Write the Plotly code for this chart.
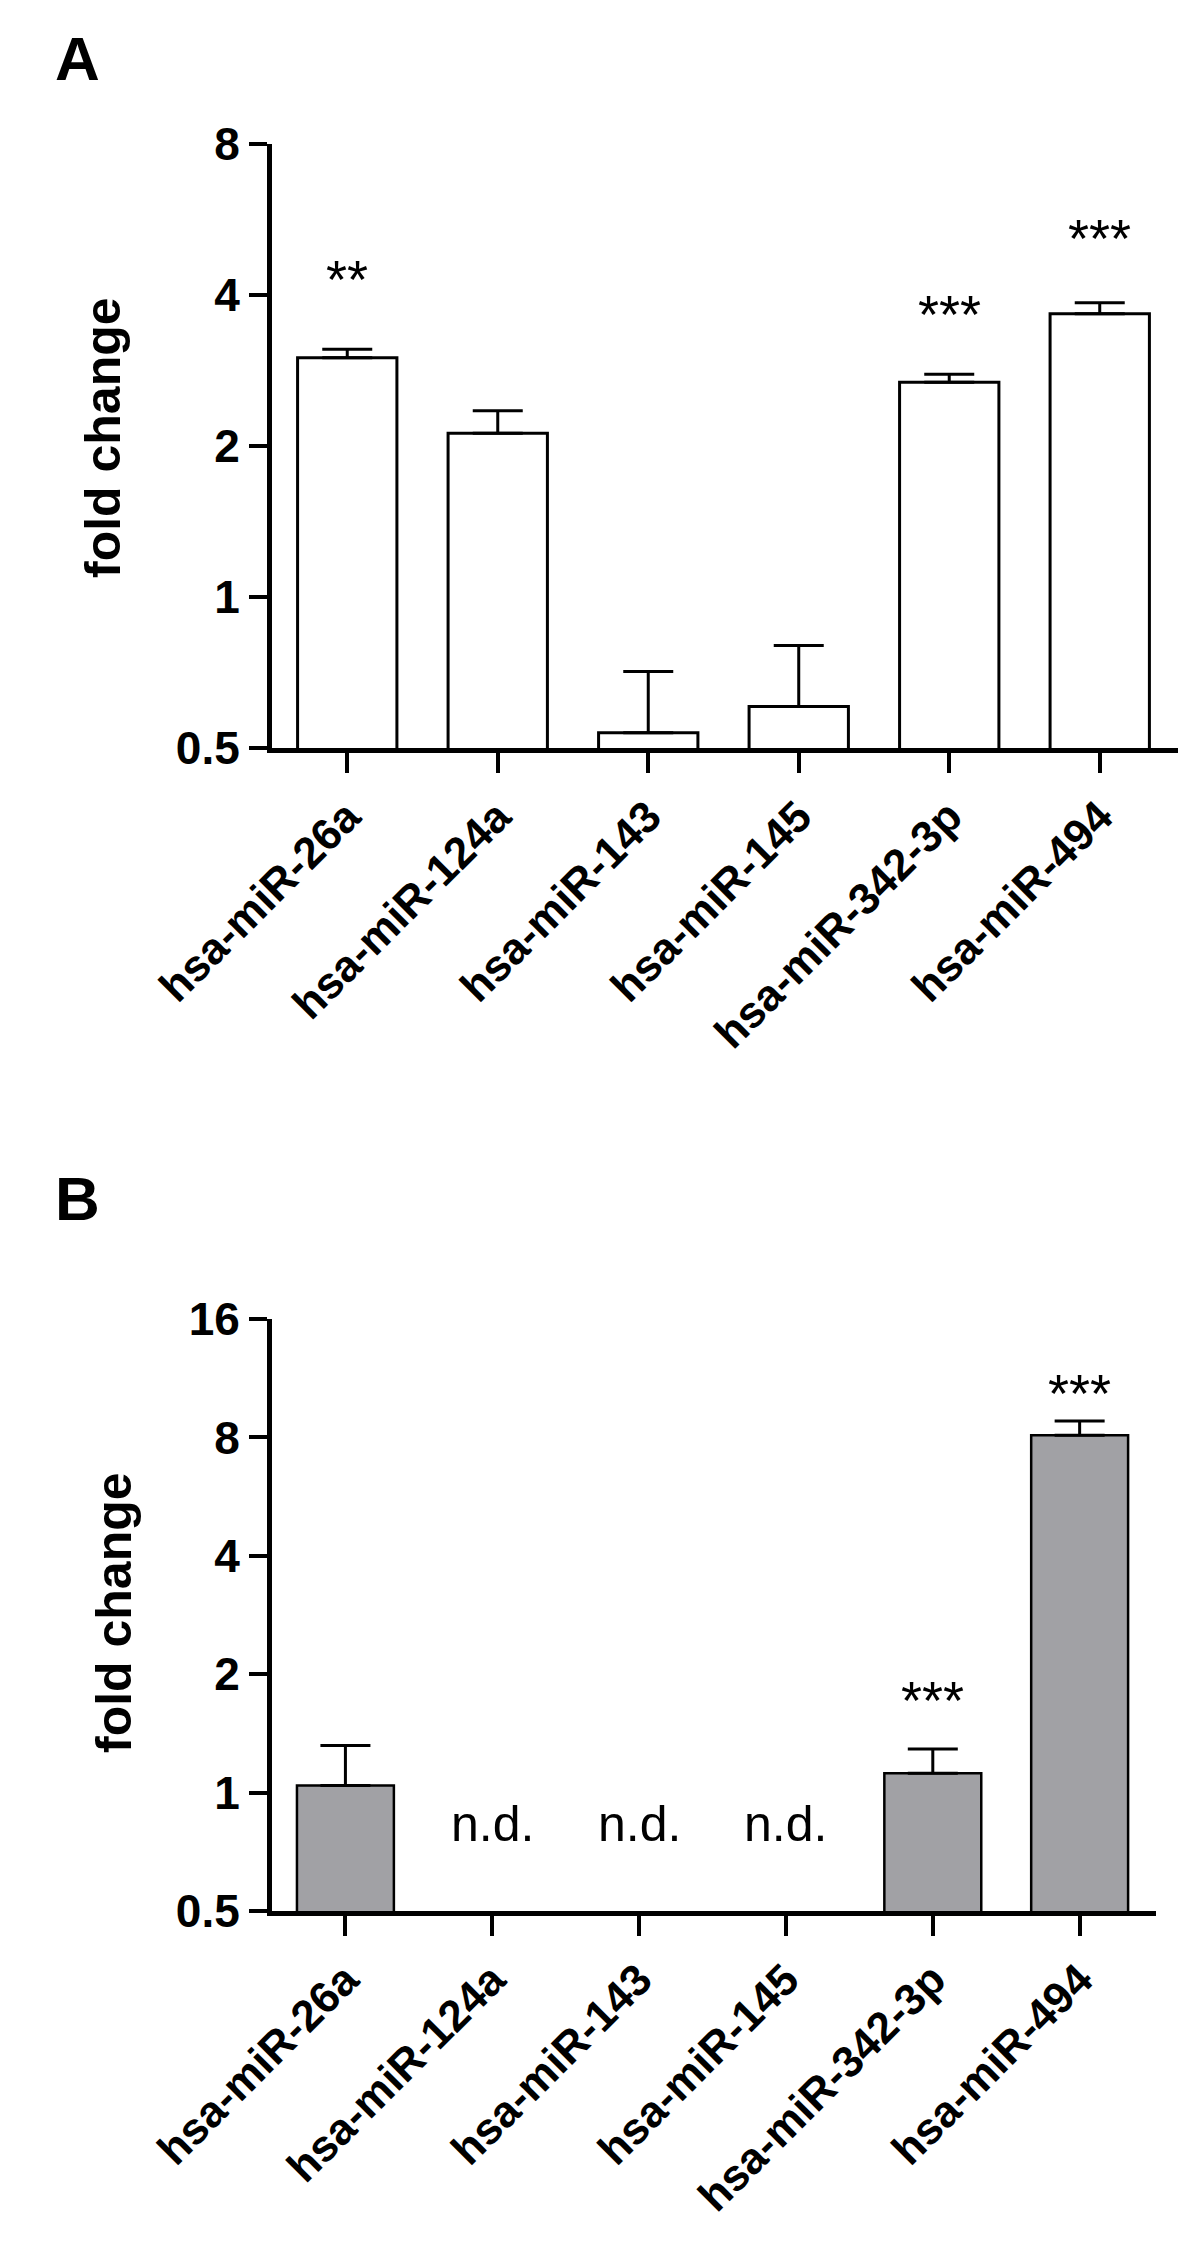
import numpy as np
import plotly.graph_objects as go

# miRNA expression fold change (log2 scaled axes)
mirnas = ['hsa-miR-26a', 'hsa-miR-124a', 'hsa-miR-143', 'hsa-miR-145',
          'hsa-miR-342-3p', 'hsa-miR-494']

fold_a = [3.00, 2.12, 0.536, 0.605, 2.68, 3.67]
err_a = [0.12, 0.23, 0.174, 0.195, 0.10, 0.19]
stars_a = ['**', '', '', '', '***', '***']
stars_a_y = [4.30, None, None, None, 3.67, 5.20]

fold_b = [1.043, None, None, None, 1.12, 8.1]
err_b = [0.275, 0, 0, 0, 0.17, 0.7]
stars_b = ['', '', '', '', '***', '***']
stars_b_y = [None, None, None, None, 1.72, 10.38]
nd_b = ['', 'n.d.', 'n.d.', 'n.d.', '', '']
nd_y = 0.83

yticks_a = [0.5, 1, 2, 4, 8]
yticks_b = [0.5, 1, 2, 4, 8, 16]

FONT = 'Liberation Sans, Arial, Helvetica, sans-serif'
W, H = 1200, 2252

fig = go.Figure()

fig.add_trace(go.Bar(
    x=mirnas, y=fold_a, width=0.66,
    marker=dict(color='white', line=dict(color='black', width=3)),
    error_y=dict(type='data', symmetric=False, array=err_a,
                 arrayminus=[0] * 6, color='black', thickness=3, width=25),
    xaxis='x', yaxis='y', showlegend=False))

fig.add_trace(go.Bar(
    x=mirnas, y=fold_b, width=0.66,
    marker=dict(color='#a1a1a5', line=dict(color='black', width=2.5)),
    error_y=dict(type='data', symmetric=False, array=err_b,
                 arrayminus=[0] * 6, color='black', thickness=3, width=25),
    xaxis='x2', yaxis='y2', showlegend=False))

axis_common = dict(showline=True, linecolor='black', linewidth=5,
                   ticks='outside', tickcolor='black', tickwidth=4,
                   showgrid=False, zeroline=False, automargin=False)

xa = dict(axis_common, ticklen=20, tickangle=-45, range=[-0.5, 5.52],
          tickfont=dict(family=FONT, size=44, color='black'),
          tickvals=mirnas, ticktext=['<b>%s</b>' % m for m in mirnas])
ya = dict(axis_common, ticklen=18, type='log',
          tickfont=dict(family=FONT, size=46, color='black'))

fig.update_layout(
    width=W, height=H, autosize=False,
    margin=dict(l=0, r=0, t=0, b=0),
    paper_bgcolor='white', plot_bgcolor='white',
    bargap=0.34,
    xaxis=dict(xa, domain=[264 / W, 1170 / W], anchor='y'),
    yaxis=dict(ya, domain=[1 - 740 / H, 1 - 136 / H], anchor='x',
               range=[np.log10(0.5), np.log10(8)],
               tickvals=yticks_a,
               ticktext=['<b>%g</b>' % v for v in yticks_a]),
    xaxis2=dict(xa, domain=[264 / W, 1148 / W], anchor='y2'),
    yaxis2=dict(ya, domain=[1 - 1903 / H, 1 - 1311 / H], anchor='x2',
                range=[np.log10(0.5), np.log10(16)],
                tickvals=yticks_b,
                ticktext=['<b>%g</b>' % v for v in yticks_b]),
)

ann = []
star_font = dict(family=FONT, size=54, color='black')
# significance stars
for m, s, y in zip(mirnas, stars_a, stars_a_y):
    if s:
        ann.append(dict(x=m, y=np.log10(y), xref='x', yref='y', text=s,
                        showarrow=False, font=star_font,
                        xanchor='center', yanchor='middle'))
for m, s, y in zip(mirnas, stars_b, stars_b_y):
    if s:
        ann.append(dict(x=m, y=np.log10(y), xref='x2', yref='y2', text=s,
                        showarrow=False, font=star_font,
                        xanchor='center', yanchor='middle'))
for m, s in zip(mirnas, nd_b):
    if s:
        ann.append(dict(x=m, y=np.log10(nd_y), xref='x2', yref='y2', text=s,
                        showarrow=False, xanchor='center', yanchor='middle',
                        font=dict(family=FONT, size=50, color='black')))

# axis titles and panel letters
title_font = dict(family=FONT, size=50, color='black')
ann.append(dict(x=95 / W, y=1 - 430 / H, xref='paper', yref='paper',
                text='<b>fold change</b>', textangle=-90, showarrow=False,
                xanchor='center', yanchor='middle', font=title_font))
ann.append(dict(x=106 / W, y=1 - 1605 / H, xref='paper', yref='paper',
                text='<b>fold change</b>', textangle=-90, showarrow=False,
                xanchor='center', yanchor='middle', font=title_font))
ann.append(dict(x=45 / W, y=1 - 50 / H, xref='paper', yref='paper',
                text='<b>A</b>', xanchor='left', yanchor='middle',
                showarrow=False,
                font=dict(family=FONT, size=62, color='black')))
ann.append(dict(x=45 / W, y=1 - 1190 / H, xref='paper', yref='paper',
                text='<b>B</b>', xanchor='left', yanchor='middle',
                showarrow=False,
                font=dict(family=FONT, size=62, color='black')))

fig.update_layout(annotations=ann)

fig.write_html("out.html")
